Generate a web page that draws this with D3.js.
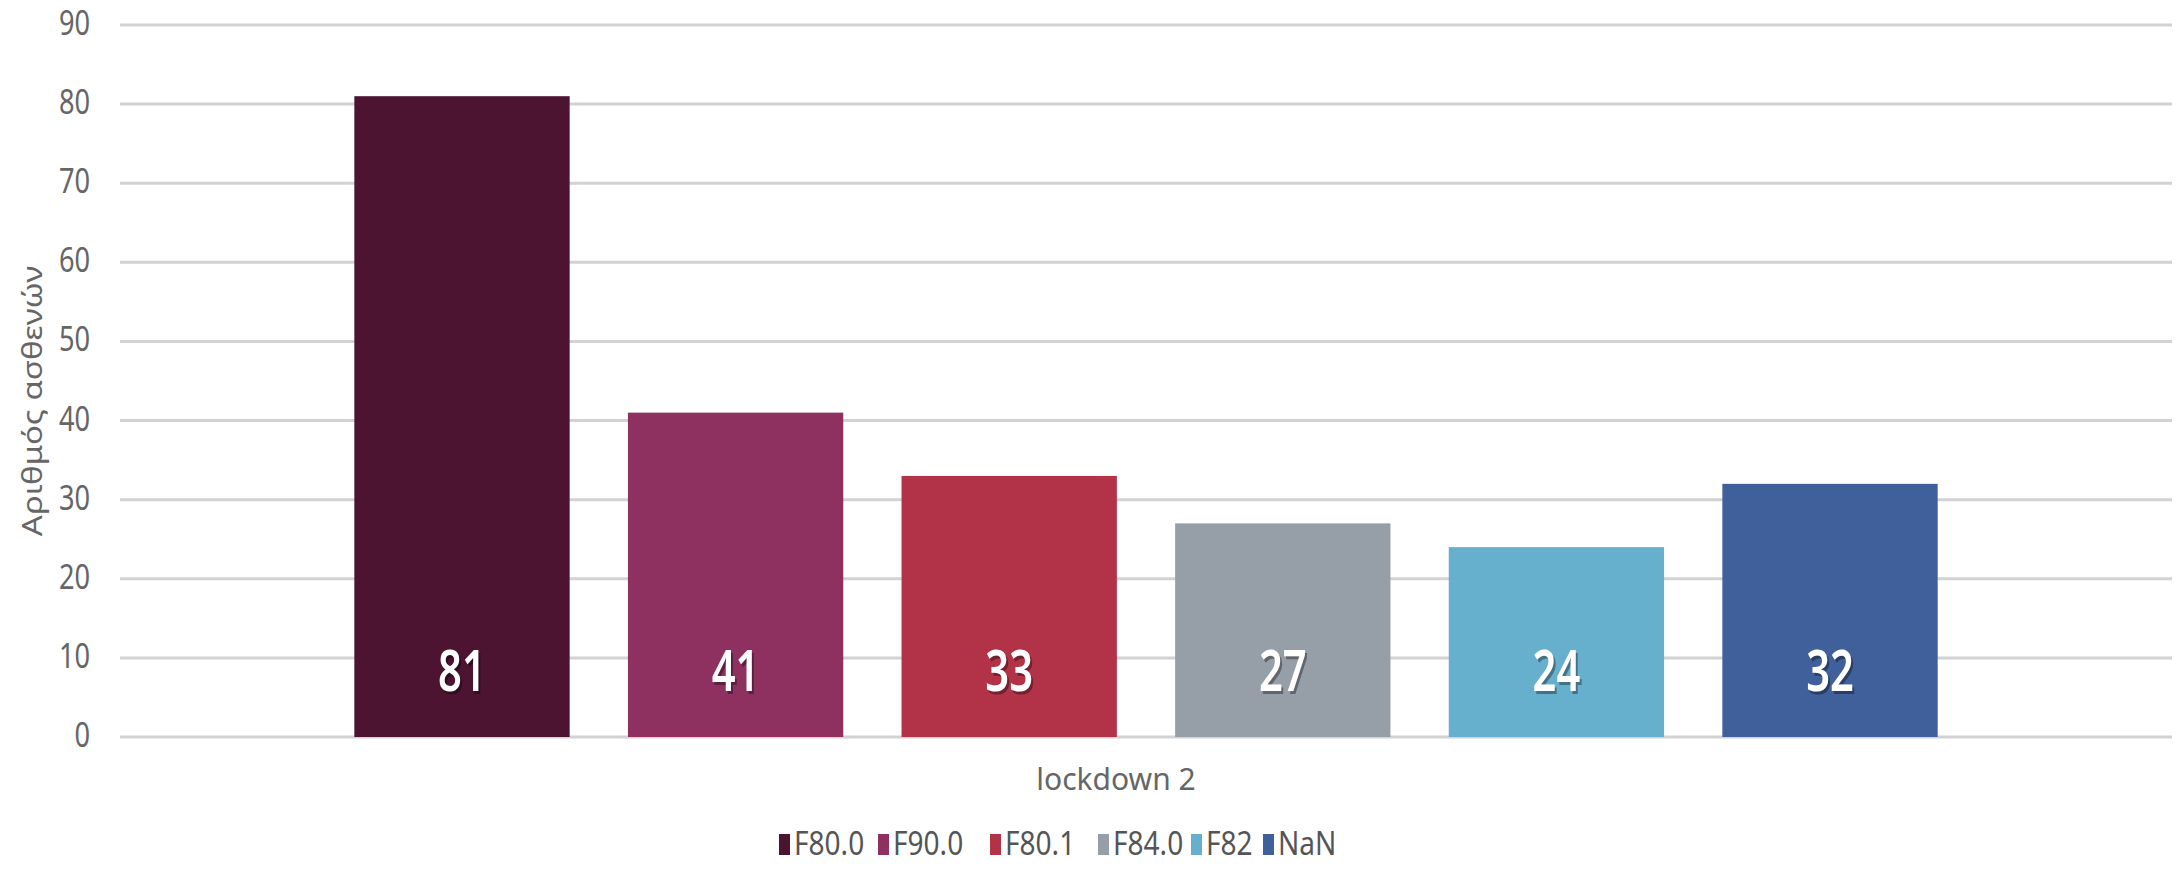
<!DOCTYPE html>
<html>
<head>
<meta charset="utf-8">
<script src="https://cdn.jsdelivr.net/npm/d3@7"></script>
<style>
  body { margin: 0; background: #fff; }
  svg { display: block; font-family: "Noto Sans", sans-serif; }
</style>
</head>
<body>
<div id="chart"></div>
<script>
// data
const categories = ["lockdown 2"]
const seriesNames = ["F80.0", "F90.0", "F80.1", "F84.0", "F82", "NaN"]
const seriesValues = [81, 41, 33, 27, 24, 32]
const seriesColors = ["#4d1431", "#8e3060", "#b23248", "#969ea7", "#66b0cd", "#40609c"]
const yTicks = [0, 10, 20, 30, 40, 50, 60, 70, 80, 90]
const yTitle = "Αριθμός ασθενών"

const width = 2176
const height = 869

// plot area
const plotLeft = 120
const plotRight = 2172
const plotTop = 25
const plotBottom = 737

const svg = d3.select("#chart")
  .append("svg")
  .attr("width", width)
  .attr("height", height)

const y = d3.scaleLinear()
  .domain([0, 90])
  .range([plotBottom, plotTop])

const x0 = d3.scaleBand()
  .domain(categories)
  .range([plotLeft, plotRight])
  .paddingOuter(0.148)

const x1 = d3.scaleBand()
  .domain(seriesNames)
  .range([0, x0.bandwidth()])
  .paddingInner(0.213)

// gridlines
svg.append("g")
  .selectAll("line")
  .data(yTicks)
  .enter()
  .append("line")
  .attr("x1", plotLeft)
  .attr("x2", plotRight)
  .attr("y1", d => y(d))
  .attr("y2", d => y(d))
  .style("stroke", "#d2d2d2")
  .style("stroke-width", 3)

// tick labels (narrow digits)
svg.append("g")
  .selectAll("text")
  .data(yTicks)
  .enter()
  .append("text")
  .attr("transform", d => "translate(90," + (y(d) + 10) + ") scale(0.8,1)")
  .style("text-anchor", "end")
  .style("font-size", "34px")
  .style("fill", "#666")
  .text(d => d)

// y title
svg.append("text")
  .attr("transform", "translate(42," + (y(45) + 20) + ") rotate(-90) scale(1,0.8)")
  .style("text-anchor", "middle")
  .style("font-size", "33px")
  .style("fill", "#666")
  .text(yTitle)

// bars
const group = svg.append("g")
  .selectAll("g")
  .data(categories)
  .enter()
  .append("g")
  .attr("transform", d => "translate(" + x0(d) + ",0)")

group.selectAll("rect")
  .data(seriesNames.map((s, i) => ({ name: s, value: seriesValues[i], color: seriesColors[i] })))
  .enter()
  .append("rect")
  .attr("x", d => x1(d.name))
  .attr("y", d => y(d.value))
  .attr("width", x1.bandwidth())
  .attr("height", d => y(0) - y(d.value))
  .style("fill", d => d.color)

// value labels with shadow
const labels = group.selectAll("g.lbl")
  .data(seriesNames.map((s, i) => ({ name: s, value: seriesValues[i] })))
  .enter()
  .append("g")
  .attr("class", "lbl")
  .attr("transform", d => "translate(" + (x1(d.name) + x1.bandwidth() / 2) + "," + (y(0) - 46) + ")")

labels.append("text")
  .attr("transform", "translate(2,3) scale(0.72,1)")
  .style("text-anchor", "middle")
  .style("font-size", "58px")
  .style("font-weight", "600")
  .style("fill", "#000")
  .style("opacity", 0.35)
  .text(d => d.value)

labels.append("text")
  .attr("transform", "scale(0.72,1)")
  .style("text-anchor", "middle")
  .style("font-size", "58px")
  .style("font-weight", "600")
  .style("fill", "#fff")
  .text(d => d.value)

// category label
svg.append("g")
  .selectAll("text")
  .data(categories)
  .enter()
  .append("text")
  .attr("x", d => x0(d) + x0.bandwidth() / 2 - 30)
  .attr("y", 790)
  .style("text-anchor", "middle")
  .style("font-size", "30px")
  .style("fill", "#666")
  .text(d => d)

// legend
const legendX = [779, 878, 990, 1098, 1191, 1263]
const legend = svg.append("g")
  .selectAll("g")
  .data(seriesNames)
  .enter()
  .append("g")
  .attr("transform", (d, i) => "translate(" + legendX[i] + ",855)")

legend.append("rect")
  .attr("x", 0)
  .attr("y", -21)
  .attr("width", 11)
  .attr("height", 21)
  .style("fill", (d, i) => seriesColors[i])

legend.append("text")
  .attr("transform", "translate(15,0) scale(0.85,1)")
  .style("font-size", "33px")
  .style("fill", "#555")
  .text(d => d)
</script>
</body>
</html>
